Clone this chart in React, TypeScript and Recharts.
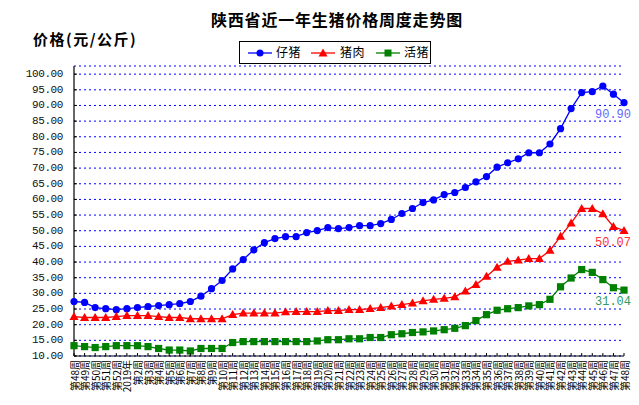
import React from 'react';
import { LineChart, Line, XAxis, YAxis, CartesianGrid, Legend } from 'recharts';

const weeks = [
  '第48周', '第49周', '第50周', '第51周', '第52周', '2019年',
  '第2周', '第3周', '第4周', '第5周', '第6周', '第7周', '第8周', '第9周', '第10周',
  '第11周', '第12周', '第13周', '第14周', '第15周', '第16周', '第17周', '第18周', '第19周', '第20周',
  '第21周', '第22周', '第23周', '第24周', '第25周', '第26周', '第27周', '第28周', '第29周', '第30周',
  '第31周', '第32周', '第33周', '第34周', '第35周', '第36周', '第37周', '第38周', '第39周', '第40周',
  '第41周', '第42周', '第43周', '第44周', '第45周', '第46周', '第47周', '第48周',
];

const piglet = [
  27.4, 27.1, 25.45, 25.1, 24.8, 25.1, 25.45, 25.8, 26.1, 26.4,
  26.7, 27.4, 29.1, 31.5, 34.1, 37.8, 40.8, 43.9, 46.2, 47.5,
  48.1, 48.1, 49.4, 50.05, 51.0, 50.7, 51.0, 51.6, 51.6, 52.3,
  53.6, 55.5, 57.1, 59.0, 59.85, 61.55, 62.2, 63.8, 65.6, 67.3,
  70.3, 71.7, 72.95, 74.9, 74.9, 77.7, 82.6, 89.0, 94.1, 94.4,
  96.2, 93.6, 90.9,
];

const pork = [
  22.6, 22.3, 22.3, 22.3, 22.6, 22.9, 22.9, 22.9, 22.6, 22.3,
  22.3, 21.9, 21.9, 21.9, 21.9, 23.2, 23.7, 23.7, 23.7, 23.7,
  24.1, 24.2, 24.2, 24.2, 24.5, 24.5, 24.8, 24.8, 25.1, 25.45,
  25.9, 26.4, 26.9, 27.6, 28.1, 28.4, 28.9, 30.7, 32.8, 35.4,
  38.3, 40.2, 40.6, 41.1, 41.1, 43.7, 48.2, 52.4, 57.1, 57.1,
  55.4, 51.3, 50.07,
];

const hog = [
  13.3, 13.0, 12.7, 13.0, 13.3, 13.3, 13.3, 13.0, 12.4, 11.9,
  11.9, 11.6, 12.4, 12.4, 12.4, 14.3, 14.6, 14.6, 14.6, 14.6,
  14.6, 14.6, 14.6, 14.8, 15.2, 15.2, 15.5, 15.5, 15.9, 15.9,
  16.8, 17.1, 17.5, 17.7, 18.0, 18.4, 18.85, 19.7, 21.3, 23.2,
  24.6, 25.1, 25.45, 26.0, 26.4, 28.1, 32.1, 34.9, 37.6, 36.7,
  34.4, 31.8, 31.04,
];

const yTicks = [10, 15, 20, 25, 30, 35, 40, 45, 50, 55, 60, 65, 70, 75, 80, 85, 90, 95, 100];

const seriesNames = ['仔猪', '猪肉', '活猪'];
const seriesColors = ['#0000FF', '#FF0000', '#008000'];
const labelColors = ['#6666FF', '#FF3333', '#339966'];

const data = weeks.map((w, i) => ({ week: w, piglet: piglet[i], pork: pork[i], hog: hog[i] }));
const N = weeks.length;

const XTick = (props: any) => {
  const { x, y, payload } = props;
  return (
    <g>
      <line x1={x} y1={y} x2={x} y2={y - 3} stroke="#000" strokeWidth={1} />
      <text
        x={x}
        y={y + 4}
        transform={`rotate(-90, ${x}, ${y + 4})`}
        textAnchor="end"
        dominantBaseline="central"
        fontSize={10}
        fill="#000"
        fontFamily="'Noto Sans CJK SC', sans-serif"
      >
        {payload.value}
      </text>
    </g>
  );
};

const YTick = (props: any) => {
  const { x, y, payload } = props;
  return (
    <g>
      <line x1={x} y1={y} x2={x + 3} y2={y} stroke="#000" strokeWidth={1} />
      <text
        x={x - 11}
        y={y}
        textAnchor="end"
        dominantBaseline="central"
        fontSize={11}
        fill="#111"
        fontFamily="'Liberation Mono', monospace"
        letterSpacing={-0.4}
      >
        {Number(payload.value).toFixed(2)}
      </text>
    </g>
  );
};

const CircleDot = (props: any) => {
  const { cx, cy, index } = props;
  if (cx == null || cy == null) return <g key={`c${index}`} />;
  return <circle key={`c${index}`} cx={cx} cy={cy} r={3.6} fill={seriesColors[0]} stroke="none" />;
};

const TriDot = (props: any) => {
  const { cx, cy, index } = props;
  if (cx == null || cy == null) return <g key={`t${index}`} />;
  const pts = `${cx},${cy - 4.6} ${cx - 4.6},${cy + 3.4} ${cx + 4.6},${cy + 3.4}`;
  return <polygon key={`t${index}`} points={pts} fill={seriesColors[1]} stroke="none" />;
};

const SqDot = (props: any) => {
  const { cx, cy, index } = props;
  if (cx == null || cy == null) return <g key={`s${index}`} />;
  return <rect key={`s${index}`} x={cx - 3.6} y={cy - 3.6} width={7.2} height={7.2} fill={seriesColors[2]} stroke="none" />;
};

const makeEndLabel = (color: string, lastValue: number) => (props: any) => {
  const { x, y, value, index } = props;
  const isLast = index !== undefined ? index === N - 1 : Number(value) === lastValue;
  if (!isLast || x == null || y == null) return null;
  return (
    <text
      key="endlabel"
      x={Number(x) + 7}
      y={Number(y) + 12}
      textAnchor="end"
      dominantBaseline="central"
      fill={color}
      fontSize={12}
      fontFamily="'Liberation Mono', monospace"
    >
      {Number(value).toFixed(2)}
    </text>
  );
};

const LegendBox = () => {
  const items = [
    { line: 8, text: 36, shape: 'circle' },
    { line: 71, text: 100, shape: 'tri' },
    { line: 136, text: 164, shape: 'sq' },
  ];
  return (
    <div
      style={{
        position: 'relative',
        width: 192,
        height: 23,
        border: '1px solid #000',
        boxSizing: 'border-box',
        background: '#fff',
      }}
    >
      {items.map((it, i) => (
        <React.Fragment key={i}>
          <svg
            width={24}
            height={12}
            style={{ position: 'absolute', left: it.line, top: 5 }}
          >
            <line x1={0} y1={6} x2={24} y2={6} stroke={seriesColors[i]} strokeWidth={1.3} />
            {it.shape === 'circle' && <circle cx={12} cy={6} r={3.5} fill={seriesColors[i]} />}
            {it.shape === 'tri' && <polygon points="12,1.5 7.5,9.5 16.5,9.5" fill={seriesColors[i]} />}
            {it.shape === 'sq' && <rect x={8.5} y={2.5} width={7} height={7} fill={seriesColors[i]} />}
          </svg>
          <span
            style={{
              position: 'absolute',
              left: it.text,
              top: 3,
              fontSize: 12,
              lineHeight: '14px',
              letterSpacing: 0.5,
              fontFamily: "'Noto Sans CJK SC', sans-serif",
              color: '#000',
              whiteSpace: 'nowrap',
            }}
          >
            {seriesNames[i]}
          </span>
        </React.Fragment>
      ))}
    </div>
  );
};

export default function App() {
  return (
    <div style={{ position: 'relative', width: 639, height: 405, background: '#fff' }}>
      <style>{`body{margin:0;background:#fff;}`}</style>
      <LineChart
        width={639}
        height={405}
        data={data}
        margin={{ top: 66, right: 15, bottom: 0, left: 0 }}
      >
        <CartesianGrid
          horizontal={true}
          vertical={false}
          stroke="#0000FF"
          strokeDasharray="2 3"
          strokeWidth={1}
        />
        <XAxis
          dataKey="week"
          interval={0}
          height={49}
          tickSize={0}
          tickMargin={0}
          tickLine={false}
          axisLine={{ stroke: '#000', strokeWidth: 1.2 }}
          tick={<XTick />}
        />
        <YAxis
          width={74}
          domain={[10, 102.6]}
          ticks={yTicks}
          interval={0}
          allowDataOverflow={true}
          tickSize={0}
          tickMargin={0}
          tickLine={false}
          axisLine={{ stroke: '#000', strokeWidth: 1.2 }}
          tick={<YTick />}
        />
        <Legend
          layout="horizontal"
          verticalAlign="middle"
          align="center"
          content={<LegendBox />}
          wrapperStyle={{ position: 'absolute', left: 239, top: 41, width: 192, height: 23 }}
        />
        <Line
          type="linear"
          dataKey="piglet"
          name={seriesNames[0]}
          stroke={seriesColors[0]}
          strokeWidth={1.3}
          dot={CircleDot}
          activeDot={false}
          isAnimationActive={false}
          label={makeEndLabel(labelColors[0], piglet[N - 1])}
        />
        <Line
          type="linear"
          dataKey="pork"
          name={seriesNames[1]}
          stroke={seriesColors[1]}
          strokeWidth={1.3}
          dot={TriDot}
          activeDot={false}
          isAnimationActive={false}
          label={makeEndLabel(labelColors[1], pork[N - 1])}
        />
        <Line
          type="linear"
          dataKey="hog"
          name={seriesNames[2]}
          stroke={seriesColors[2]}
          strokeWidth={1.3}
          dot={SqDot}
          activeDot={false}
          isAnimationActive={false}
          label={makeEndLabel(labelColors[2], hog[N - 1])}
        />
      </LineChart>
      <div
        style={{
          position: 'absolute',
          left: 211,
          top: 10,
          fontSize: 16,
          lineHeight: '18px',
          fontWeight: 'bold',
          letterSpacing: 0.8,
          fontFamily: "'Noto Sans CJK SC', sans-serif",
          color: '#000',
          whiteSpace: 'nowrap',
        }}
      >
        陕西省近一年生猪价格周度走势图
      </div>
      <div
        style={{
          position: 'absolute',
          left: 33,
          top: 30,
          fontSize: 15,
          lineHeight: '18px',
          fontWeight: 'bold',
          letterSpacing: 1.5,
          fontFamily: "'Noto Sans CJK SC', sans-serif",
          color: '#000',
          whiteSpace: 'nowrap',
        }}
      >
        价格(元/公斤)
      </div>
    </div>
  );
}
